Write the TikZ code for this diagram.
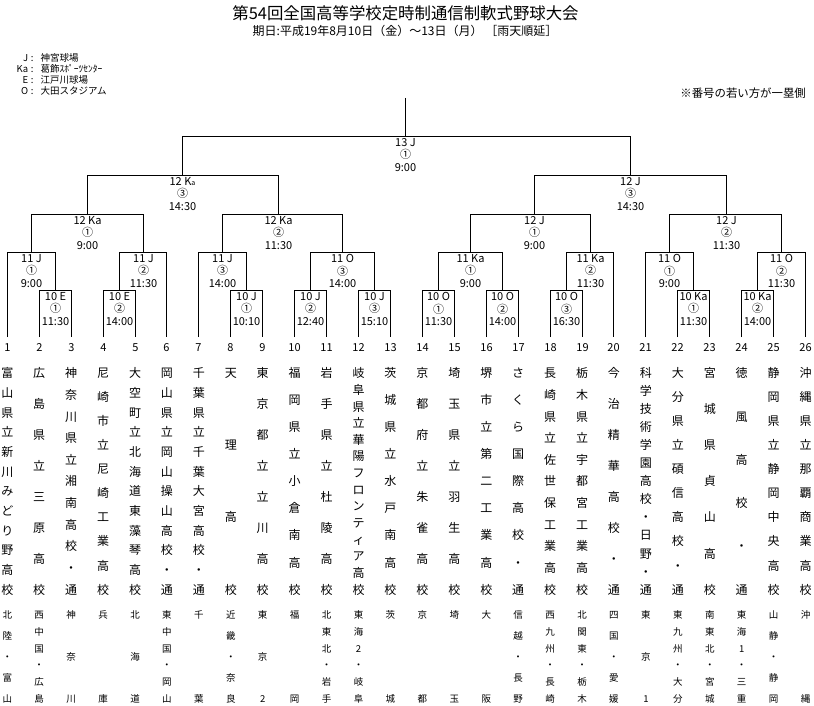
\documentclass[tikz,border=0pt]{standalone}
\usepackage{fontspec}
\setmainfont{Noto Sans CJK JP}
\makeatletter
\newlength\vjH
\def\vj@box#1{\hbox to 1.2em{\hss\rule[-0.12em]{0pt}{1em}#1\hss}}
\def\vj@first#1{\vj@box{#1}\vj@rest}
\def\vj@rest#1{\ifx\relax#1\else\vfill\vj@box{#1}\expandafter\vj@rest\fi}
\newcommand\vjust[3]{\fontsize{#1}{#1}\selectfont\setlength\vjH{#2}\addtolength\vjH{0.88em}\vbox to \vjH{\offinterlineskip\expandafter\vj@first#3\relax}}
\makeatother
\tikzset{
  br/.style={line width=1.3pt, black},
  lbl/.style={anchor=north, yshift=-1.3pt, align=center, inner sep=0pt, font=\fontsize{11}{12.8}\selectfont},
  leg/.style={anchor=west, inner sep=0pt, font=\fontsize{9.5}{9.5}\selectfont},
  tnum/.style={inner sep=0pt, font=\fontsize{11}{11}\selectfont},
  vname/.style={anchor=north, inner sep=0pt}
}
\begin{document}
\begin{tikzpicture}[x=1pt, y=-1pt]
\fill[white] (0,0) rectangle (814,706);
\useasboundingbox (0,0) rectangle (814,706);

% title
\node[inner sep=0pt, font=\fontsize{16.4}{16.4}\selectfont] (title) at (405.5,13) {第54回全国高等学校定時制通信制軟式野球大会};
\node[inner sep=0pt, font=\fontsize{12}{12}\selectfont] (subtitle) at (405,31) {期日:平成19年8月10日（金）〜13日（月） ［雨天順延］};

% legend
\node[leg] (lg1) at (13,57.5) {\makebox[15pt][r]{J}\makebox[8pt]{:}\hspace{4.5pt}神宮球場};
\node[leg] (lg2) at (13,68.5) {\makebox[15pt][r]{Ka}\makebox[8pt]{:}\hspace{4.5pt}葛飾ｽﾎﾟｰﾂｾﾝﾀｰ};
\node[leg] (lg3) at (13,79.5) {\makebox[15pt][r]{E}\makebox[8pt]{:}\hspace{4.5pt}江戸川球場};
\node[leg] (lg4) at (13,90.5) {\makebox[15pt][r]{O}\makebox[8pt]{:}\hspace{4.5pt}大田スタジアム};
\node[inner sep=0pt, anchor=east, font=\fontsize{11.4}{11.4}\selectfont] (note) at (806,93.5) {※番号の若い方が一塁側};

% leaves
\foreach \i in {1,...,26} {
  \pgfmathsetmacro\xx{floor(7.3+(\i-1)*31.93)+0.5}
  \coordinate (t\i) at (\xx,337);
  \node[tnum] (num\i) at (\xx,348) {\i};
}

% round of 10
\coordinate (m2) at (55.5,290.5);
\coordinate (m4) at (119.5,290.5);
\coordinate (m8) at (246.5,290.5);
\coordinate (m10) at (310.5,290.5);
\coordinate (m12) at (374.5,290.5);
\coordinate (m14) at (438.5,290.5);
\coordinate (m16) at (502.5,290.5);
\coordinate (m18) at (566.5,290.5);
\coordinate (m22) at (693.5,290.5);
\coordinate (m24) at (757.5,290.5);
% round of 11
\coordinate (k1) at (31.5,252.5);
\coordinate (k2) at (143.5,252.5);
\coordinate (k3) at (222.5,252.5);
\coordinate (k4) at (342.5,252.5);
\coordinate (k5) at (470.5,252.5);
\coordinate (k6) at (590.5,252.5);
\coordinate (k7) at (669.5,252.5);
\coordinate (k8) at (781.5,252.5);
% quarter finals
\coordinate (q1) at (87.5,214.5);
\coordinate (q2) at (278.5,214.5);
\coordinate (q3) at (534.5,214.5);
\coordinate (q4) at (726.5,214.5);
% semi finals
\coordinate (s1) at (182.5,175.5);
\coordinate (s2) at (630.5,175.5);
% final
\coordinate (f) at (405.5,136.5);
\coordinate (top) at (405.5,98);

\foreach \a/\m/\b in {2/m2/3, 4/m4/5, 8/m8/9, 10/m10/11, 12/m12/13, 14/m14/15, 16/m16/17, 18/m18/19, 22/m22/23, 24/m24/25}
  \draw[br] (t\a) |- (\m) -| (t\b);

\draw[br] (t1) |- (k1) -| (m2);
\draw[br] (m4) |- (k2) -| (t6);
\draw[br] (t7) |- (k3) -| (m8);
\draw[br] (m10) |- (k4) -| (m12);
\draw[br] (m14) |- (k5) -| (m16);
\draw[br] (m18) |- (k6) -| (t20);
\draw[br] (t21) |- (k7) -| (m22);
\draw[br] (m24) |- (k8) -| (t26);
\draw[br] (k1) |- (q1) -| (k2);
\draw[br] (k3) |- (q2) -| (k4);
\draw[br] (k5) |- (q3) -| (k6);
\draw[br] (k7) |- (q4) -| (k8);
\draw[br] (q1) |- (s1) -| (q2);
\draw[br] (q3) |- (s2) -| (q4);
\draw[br] (s1) |- (f) -| (s2);
\draw[br] (top) -- (f);

% match labels
\node[lbl] (Lm2) at (m2) {10 E\\①\\11:30};
\node[lbl] (Lm4) at (m4) {10 E\\②\\14:00};
\node[lbl] (Lm8) at (m8) {10 J\\①\\10:10};
\node[lbl] (Lm10) at (m10) {10 J\\②\\12:40};
\node[lbl] (Lm12) at (m12) {10 J\\③\\15:10};
\node[lbl] (Lm14) at (m14) {10 O\\①\\11:30};
\node[lbl] (Lm16) at (m16) {10 O\\②\\14:00};
\node[lbl] (Lm18) at (m18) {10 O\\③\\16:30};
\node[lbl] (Lm22) at (m22) {10 Ka\\①\\11:30};
\node[lbl] (Lm24) at (m24) {10 Ka\\②\\14:00};
\node[lbl] (Lk1) at (k1) {11 J\\①\\9:00};
\node[lbl] (Lk2) at (k2) {11 J\\②\\11:30};
\node[lbl] (Lk3) at (k3) {11 J\\③\\14:00};
\node[lbl] (Lk4) at (k4) {11 O\\③\\14:00};
\node[lbl] (Lk5) at (k5) {11 Ka\\①\\9:00};
\node[lbl] (Lk6) at (k6) {11 Ka\\②\\11:30};
\node[lbl] (Lk7) at (k7) {11 O\\①\\9:00};
\node[lbl] (Lk8) at (k8) {11 O\\②\\11:30};
\node[lbl] (Lq1) at (q1) {12 Ka\\①\\9:00};
\node[lbl] (Lq2) at (q2) {12 Ka\\②\\11:30};
\node[lbl] (Lq3) at (q3) {12 J\\①\\9:00};
\node[lbl] (Lq4) at (q4) {12 J\\②\\11:30};
\node[lbl] (Ls1) at (s1) {12 K{\fontsize{7}{7}\selectfont a}\\③\\14:30};
\node[lbl] (Ls2) at (s2) {12 J\\③\\14:30};
\node[lbl] (Lf) at (f) {13 J\\①\\9:00};

% team names
\foreach \i/\s in {1/富山県立新川みどり野高校,2/広島県立三原高校,3/神奈川県立湘南高校・通,4/尼崎市立尼崎工業高校,5/大空町立北海道東藻琴高校,6/岡山県立岡山操山高校・通,7/千葉県立千葉大宮高校・通,8/天理高校,9/東京都立立川高校,10/福岡県立小倉南高校,11/岩手県立杜陵高校,12/岐阜県立華陽フロンティア高校,13/茨城県立水戸南高校,14/京都府立朱雀高校,15/埼玉県立羽生高校,16/堺市立第二工業高校,17/さくら国際高校・通,18/長崎県立佐世保工業高校,19/栃木県立宇都宮工業高校,20/今治精華高校・通,21/科学技術学園高校・日野・通,22/大分県立碩信高校・通,23/宮城県貞山高校,24/徳風高校・通,25/静岡県立静岡中央高校,26/沖縄県立那覇商業高校}
  \node[vname] (name\i) at ({7.3+(\i-1)*31.93},367) {\vjust{12}{216.3pt}{\s}};

% regions
\foreach \i/\s in {1/北陸・富山,2/西中国・広島,3/神奈川,4/兵庫,5/北海道,6/東中国・岡山,7/千葉,8/近畿・奈良,9/東京2,10/福岡,11/北東北・岩手,12/東海2・岐阜,13/茨城,14/京都,15/埼玉,16/大阪,17/信越・長野,18/西九州・長崎,19/北関東・栃木,20/四国・愛媛,21/東京1,22/東九州・大分,23/南東北・宮城,24/東海1・三重,25/山静・静岡,26/沖縄}
  \node[vname] (reg\i) at ({7.3+(\i-1)*31.93},610.25) {\vjust{9.5}{83.3pt}{\s}};
\end{tikzpicture}
\end{document}
